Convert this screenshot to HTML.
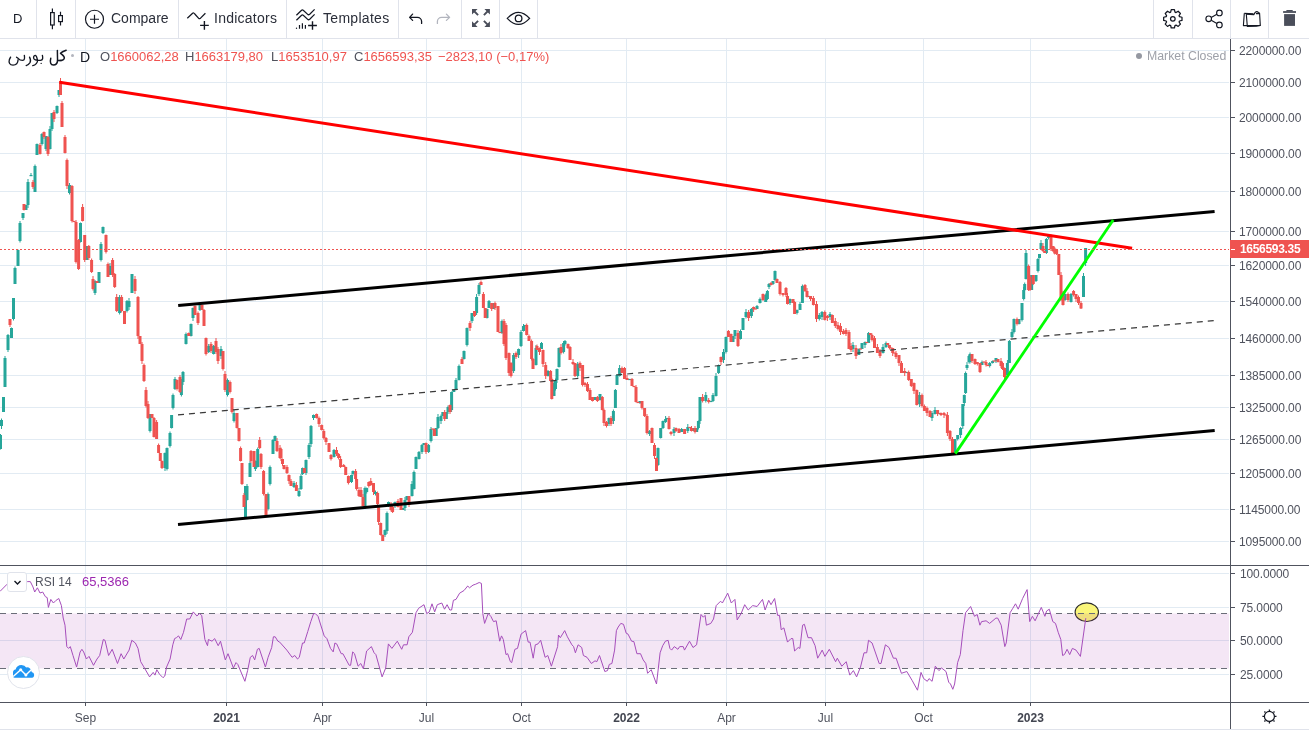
<!DOCTYPE html><html><head><meta charset="utf-8"><style>html,body{margin:0;padding:0;background:#fff;overflow:hidden}#r{position:relative;width:1309px;height:730px;overflow:hidden;font-family:"Liberation Sans", sans-serif;}.t{position:absolute;white-space:nowrap;line-height:1;will-change:transform;}</style></head><body><div id="r"><svg width="1309" height="730" viewBox="0 0 1309 730" style="position:absolute;left:0;top:0"><path d="M0 50.5H1229 M0 82.5H1229 M0 117.5H1229 M0 153.5H1229 M0 191.5H1229 M0 231.5H1229 M0 265.5H1229 M0 301.5H1229 M0 338.5H1229 M0 375.5H1229 M0 407.5H1229 M0 439.5H1229 M0 473.5H1229 M0 509.5H1229 M0 541.5H1229 M0 573.5H1229 M0 607.5H1229 M0 640.5H1229 M0 674.5H1229 M85.5 39V565 M85.5 566V702 M226.5 39V565 M226.5 566V702 M322.5 39V565 M322.5 566V702 M426.5 39V565 M426.5 566V702 M521.5 39V565 M521.5 566V702 M626.5 39V565 M626.5 566V702 M726.5 39V565 M726.5 566V702 M825.5 39V565 M825.5 566V702 M923.5 39V565 M923.5 566V702 M1030.5 39V565 M1030.5 566V702" stroke="#e2ebf3" stroke-width="1" fill="none"/><ellipse cx="1086.8" cy="612.2" rx="11.7" ry="9.3" fill="#faf67a" stroke="#2a2a2a" stroke-width="1.1"/><rect x="0" y="613.5" width="1229" height="55" fill="rgba(149,20,165,0.105)"/><path d="M0 613.5H1229M0 668.5H1229" stroke="#6a6d78" stroke-width="1.1" stroke-dasharray="6 5" fill="none"/><polyline points="0.0,591.4 7.1,584.2 27.6,581.6 30.3,581.6 33.0,587.0 34.7,592.0 37.4,587.8 40.0,593.0 42.7,592.0 45.4,596.7 47.2,597.6 48.4,607.4 50.8,599.4 53.4,603.0 56.1,600.3 58.8,598.5 61.4,605.6 63.2,618.0 65.0,625.2 66.8,646.6 68.6,648.4 70.3,646.6 73.0,655.5 76.6,667.0 80.1,652.0 81.9,649.3 83.7,652.0 86.4,659.0 89.0,656.4 93.5,665.3 97.0,659.0 99.7,655.5 103.3,639.5 105.0,640.3 108.6,655.5 112.2,649.3 117.5,663.5 121.1,653.7 123.8,659.0 129.1,650.1 131.8,640.3 135.4,643.0 138.0,648.4 140.7,661.7 143.4,666.2 149.6,676.9 153.2,672.4 155.0,675.1 156.8,669.7 159.5,674.2 163.0,677.7 164.8,676.0 166.6,667.0 170.1,659.0 172.8,644.8 174.6,638.6 176.4,637.7 178.5,635.9 180.8,639.5 183.5,632.3 186.7,619.0 189.7,619.0 193.3,611.9 196.9,616.0 199.5,613.6 201.7,615.4 204.9,639.5 207.5,645.7 208.4,639.5 212.0,641.2 214.7,638.6 218.2,645.7 220.5,641.2 225.3,659.9 228.0,653.7 233.4,668.0 236.0,662.6 237.8,664.4 244.9,681.3 247.6,670.6 250.3,657.3 252.6,655.5 254.7,659.9 257.4,649.3 259.2,648.4 265.4,667.0 268.1,657.3 271.7,647.5 273.4,636.8 275.2,636.8 277.9,641.2 279.7,642.1 286.8,650.1 292.1,657.3 294.8,655.5 297.5,659.0 299.3,657.3 302.5,643.0 304.2,643.0 307.8,631.4 310.8,621.6 313.6,613.6 315.3,613.6 318.0,616.3 324.2,635.9 326.9,638.6 330.5,648.4 333.2,651.9 334.9,643.0 336.7,643.9 341.2,653.7 342.9,653.7 349.2,665.3 350.6,665.3 352.7,651.9 354.5,653.7 358.1,666.2 360.8,663.5 363.4,668.8 366.6,651.0 371.4,646.6 374.1,652.8 375.9,654.6 382.1,676.9 385.7,668.0 388.4,643.9 391.9,648.4 397.3,641.2 401.7,649.3 403.5,644.8 407.1,644.8 408.8,636.8 412.4,632.3 416.0,612.7 418.6,608.3 424.0,604.7 426.7,613.6 429.3,611.9 432.0,603.8 434.7,611.9 437.3,604.7 441.8,603.0 444.5,609.2 447.1,604.7 449.8,610.0 451.6,610.0 453.4,600.3 456.0,599.4 459.6,593.2 464.0,590.5 467.7,586.0 469.5,587.8 473.0,585.1 475.7,584.2 479.2,582.5 481.4,583.4 482.8,613.6 484.6,623.4 488.2,613.6 490.8,616.3 493.5,621.6 496.2,620.8 499.7,641.2 501.5,635.9 503.3,639.5 506.0,654.6 507.7,653.7 510.4,661.7 511.7,662.6 514.9,649.3 517.5,648.4 521.1,634.1 525.6,630.6 528.2,642.1 530.0,642.1 533.2,658.2 535.3,644.8 538.0,643.9 540.7,640.3 545.1,657.3 547.8,655.5 551.4,666.2 557.6,646.6 558.5,635.0 560.3,637.7 564.7,630.6 567.4,636.8 571.9,644.8 573.6,646.6 575.4,652.8 578.1,644.8 581.7,647.5 583.4,655.5 587.0,657.3 591.4,663.5 595.0,660.8 596.8,661.7 599.5,655.5 604.8,671.5 607.5,670.6 609.3,664.4 611.9,663.5 614.6,650.1 616.4,630.6 618.2,627.0 620.8,623.4 623.5,624.3 626.2,633.2 628.0,634.1 631.6,641.2 633.9,641.6 636.9,653.7 640.5,653.7 643.2,659.9 645.8,663.5 647.6,673.3 651.2,669.7 656.5,684.0 660.1,652.8 662.7,645.7 665.4,641.2 668.1,640.3 669.9,648.4 671.6,650.1 674.3,646.6 677.9,649.3 679.7,646.6 683.2,646.6 684.5,650.1 689.5,641.2 693.0,647.5 696.6,644.8 701.0,614.5 703.3,617.2 705.1,615.4 706.4,625.2 710.8,623.4 713.5,619.0 716.2,605.6 720.6,601.2 722.4,603.0 727.7,593.2 731.3,603.0 734.9,599.4 737.2,619.9 741.1,613.6 744.7,604.7 748.2,610.0 752.7,605.6 757.1,606.5 762.5,599.4 765.1,610.0 768.7,600.3 771.0,604.7 774.6,598.5 777.6,615.4 779.5,615.4 781.2,629.7 783.9,627.9 787.5,642.1 791.0,638.6 792.8,638.6 794.6,651.0 798.2,647.5 799.9,648.4 802.6,625.2 804.4,624.3 808.0,637.7 811.5,637.7 815.1,645.7 817.7,658.2 822.2,650.1 824.9,656.4 829.3,649.3 835.6,661.7 837.3,658.2 841.8,666.2 846.2,661.7 849.8,675.1 853.4,670.6 856.6,676.9 860.5,667.0 864.0,652.8 866.7,652.8 868.5,640.3 872.1,643.0 879.2,663.5 881.0,663.5 885.4,644.8 889.0,647.5 893.4,658.2 896.1,658.2 901.4,673.3 906.8,671.5 912.1,680.4 917.5,690.2 921.0,672.4 923.7,678.6 927.3,681.3 929.0,678.6 932.1,681.3 935.3,666.2 938.9,670.6 941.6,668.0 946.0,671.5 948.7,682.2 950.5,684.0 952.8,689.3 954.6,684.0 957.6,662.6 960.3,654.6 963.0,630.6 965.6,612.7 970.6,606.5 974.5,616.3 977.2,614.5 979.9,625.2 981.6,621.6 986.1,620.8 989.6,623.4 995.9,618.1 997.7,618.1 1001.2,625.2 1004.8,646.6 1006.2,643.0 1010.1,612.7 1012.8,608.3 1015.5,603.8 1018.2,609.2 1022.6,598.5 1027.1,589.6 1029.7,621.6 1032.4,616.3 1035.1,620.8 1041.3,607.4 1044.9,616.3 1046.6,611.0 1049.3,609.2 1052.8,621.6 1055.5,623.4 1058.2,632.3 1060.8,639.5 1062.6,655.5 1064.4,654.6 1067.1,649.3 1069.7,654.6 1072.4,648.4 1076.0,650.1 1080.4,656.4 1085.8,618.1" fill="none" stroke="#a64ebb" stroke-width="1" stroke-linejoin="round"/><g fill="#26a69a"><rect x="0.00" y="434.00" width="1" height="15.50"/><rect x="1.00" y="418.50" width="1" height="10.50"/><rect x="3.00" y="397.00" width="1" height="15.00"/><rect x="4.50" y="356.00" width="1" height="31.00"/><rect x="7.50" y="334.00" width="1" height="18.00"/><rect x="11.00" y="327.50" width="1" height="10.50"/><rect x="13.00" y="298.00" width="1" height="22.50"/><rect x="14.50" y="266.50" width="1" height="17.50"/><rect x="17.50" y="249.50" width="1" height="16.50"/><rect x="19.50" y="221.00" width="1" height="21.50"/><rect x="22.50" y="213.00" width="1" height="7.00"/><rect x="27.50" y="179.00" width="1" height="29.00"/><rect x="30.50" y="173.00" width="1" height="3.00"/><rect x="34.50" y="164.50" width="1" height="27.50"/><rect x="36.50" y="143.50" width="1" height="11.50"/><rect x="41.50" y="133.00" width="1" height="12.50"/><rect x="45.50" y="136.00" width="1" height="15.00"/><rect x="49.50" y="126.00" width="1" height="23.50"/><rect x="51.50" y="113.00" width="1" height="18.00"/><rect x="56.50" y="105.50" width="1" height="8.50"/><rect x="58.50" y="90.00" width="1" height="7.00"/><rect x="69.00" y="183.00" width="1" height="11.50"/><rect x="80.00" y="222.50" width="1" height="20.00"/><rect x="94.50" y="280.00" width="1" height="15.00"/><rect x="98.50" y="272.00" width="1" height="11.00"/><rect x="100.50" y="242.00" width="1" height="19.50"/><rect x="102.50" y="226.50" width="1" height="7.50"/><rect x="109.50" y="263.00" width="1" height="12.00"/><rect x="119.10" y="295.00" width="1" height="19.50"/><rect x="126.50" y="300.00" width="1" height="12.50"/><rect x="128.50" y="298.00" width="1" height="12.00"/><rect x="131.50" y="274.00" width="1" height="19.00"/><rect x="149.50" y="414.00" width="1" height="18.50"/><rect x="164.50" y="452.50" width="1" height="18.50"/><rect x="166.50" y="447.50" width="1" height="23.00"/><rect x="169.50" y="431.50" width="1" height="16.00"/><rect x="171.10" y="415.00" width="1" height="13.50"/><rect x="172.50" y="393.50" width="1" height="16.00"/><rect x="174.50" y="377.00" width="1" height="13.00"/><rect x="180.90" y="379.00" width="1" height="17.50"/><rect x="182.50" y="371.00" width="1" height="14.00"/><rect x="185.50" y="332.50" width="1" height="12.00"/><rect x="190.50" y="323.50" width="1" height="13.00"/><rect x="192.50" y="307.50" width="1" height="13.50"/><rect x="199.50" y="304.50" width="1" height="6.50"/><rect x="208.20" y="344.00" width="1" height="9.00"/><rect x="213.10" y="345.00" width="1" height="9.50"/><rect x="220.50" y="346.00" width="1" height="13.00"/><rect x="227.00" y="378.50" width="1" height="18.00"/><rect x="233.50" y="410.00" width="1" height="12.50"/><rect x="245.00" y="486.00" width="1" height="31.00"/><rect x="246.50" y="484.00" width="1" height="16.50"/><rect x="249.50" y="461.00" width="1" height="16.00"/><rect x="254.90" y="460.50" width="1" height="10.50"/><rect x="257.20" y="447.50" width="1" height="20.00"/><rect x="267.50" y="492.50" width="1" height="18.00"/><rect x="269.50" y="465.50" width="1" height="20.00"/><rect x="272.50" y="439.00" width="1" height="15.00"/><rect x="274.50" y="435.50" width="1" height="5.50"/><rect x="293.50" y="481.00" width="1" height="7.00"/><rect x="298.50" y="488.00" width="1" height="9.00"/><rect x="300.50" y="474.00" width="1" height="16.00"/><rect x="302.10" y="467.50" width="1" height="7.50"/><rect x="305.50" y="459.50" width="1" height="15.50"/><rect x="308.50" y="443.00" width="1" height="16.00"/><rect x="310.50" y="425.00" width="1" height="22.00"/><rect x="313.00" y="414.50" width="1" height="5.50"/><rect x="333.50" y="449.00" width="1" height="8.50"/><rect x="351.00" y="474.50" width="1" height="8.50"/><rect x="352.50" y="470.50" width="1" height="5.00"/><rect x="364.50" y="486.50" width="1" height="22.50"/><rect x="366.20" y="487.50" width="1" height="6.00"/><rect x="375.00" y="490.50" width="1" height="5.00"/><rect x="384.50" y="529.50" width="1" height="7.50"/><rect x="386.50" y="511.50" width="1" height="22.50"/><rect x="388.00" y="501.50" width="1" height="5.50"/><rect x="394.50" y="501.50" width="1" height="6.50"/><rect x="404.50" y="497.00" width="1" height="14.00"/><rect x="411.50" y="481.00" width="1" height="15.50"/><rect x="413.50" y="470.50" width="1" height="19.00"/><rect x="415.50" y="456.50" width="1" height="12.50"/><rect x="418.50" y="451.00" width="1" height="8.50"/><rect x="421.50" y="444.00" width="1" height="10.00"/><rect x="428.10" y="444.00" width="1" height="9.00"/><rect x="430.50" y="427.00" width="1" height="15.50"/><rect x="437.50" y="414.00" width="1" height="15.00"/><rect x="440.50" y="414.50" width="1" height="9.50"/><rect x="447.50" y="405.50" width="1" height="8.50"/><rect x="451.10" y="391.50" width="1" height="20.50"/><rect x="455.50" y="378.00" width="1" height="12.00"/><rect x="458.50" y="364.50" width="1" height="16.00"/><rect x="463.50" y="350.50" width="1" height="9.00"/><rect x="466.50" y="327.50" width="1" height="19.00"/><rect x="471.50" y="313.00" width="1" height="10.00"/><rect x="476.10" y="294.00" width="1" height="21.00"/><rect x="478.50" y="283.00" width="1" height="13.00"/><rect x="486.50" y="308.50" width="1" height="10.00"/><rect x="488.50" y="300.00" width="1" height="8.00"/><rect x="501.50" y="319.50" width="1" height="14.50"/><rect x="513.10" y="353.00" width="1" height="20.00"/><rect x="518.10" y="348.50" width="1" height="9.50"/><rect x="520.50" y="330.00" width="1" height="17.00"/><rect x="523.00" y="324.00" width="1" height="7.50"/><rect x="535.50" y="345.00" width="1" height="20.50"/><rect x="541.00" y="342.00" width="1" height="7.00"/><rect x="547.50" y="370.00" width="1" height="6.50"/><rect x="553.50" y="380.00" width="1" height="16.00"/><rect x="555.00" y="378.50" width="1" height="12.00"/><rect x="556.50" y="368.50" width="1" height="14.50"/><rect x="558.50" y="347.50" width="1" height="20.00"/><rect x="563.10" y="341.00" width="1" height="12.50"/><rect x="564.50" y="340.00" width="1" height="5.50"/><rect x="577.20" y="362.00" width="1" height="15.50"/><rect x="594.50" y="397.00" width="1" height="3.00"/><rect x="599.50" y="394.00" width="1" height="6.50"/><rect x="608.50" y="417.50" width="1" height="8.50"/><rect x="612.90" y="409.50" width="1" height="14.50"/><rect x="614.90" y="389.00" width="1" height="19.00"/><rect x="616.50" y="374.00" width="1" height="11.00"/><rect x="619.10" y="365.00" width="1" height="11.50"/><rect x="639.50" y="401.00" width="1" height="3.00"/><rect x="649.10" y="430.00" width="1" height="6.00"/><rect x="657.50" y="447.50" width="1" height="18.50"/><rect x="660.20" y="428.00" width="1" height="10.50"/><rect x="662.50" y="420.50" width="1" height="8.50"/><rect x="665.10" y="416.00" width="1" height="7.00"/><rect x="673.50" y="427.00" width="1" height="9.00"/><rect x="681.10" y="428.00" width="1" height="4.00"/><rect x="687.30" y="424.00" width="1" height="9.00"/><rect x="697.90" y="420.50" width="1" height="9.00"/><rect x="699.50" y="397.00" width="1" height="27.00"/><rect x="705.30" y="392.00" width="1" height="10.50"/><rect x="712.50" y="393.00" width="1" height="9.00"/><rect x="715.50" y="373.00" width="1" height="23.50"/><rect x="718.10" y="364.50" width="1" height="9.50"/><rect x="723.00" y="349.00" width="1" height="14.00"/><rect x="725.50" y="336.50" width="1" height="17.00"/><rect x="734.50" y="330.00" width="1" height="9.00"/><rect x="740.00" y="329.50" width="1" height="10.00"/><rect x="742.50" y="318.00" width="1" height="12.00"/><rect x="745.50" y="309.00" width="1" height="9.50"/><rect x="750.90" y="308.00" width="1" height="10.00"/><rect x="756.50" y="305.00" width="1" height="4.00"/><rect x="759.50" y="297.50" width="1" height="6.00"/><rect x="765.20" y="293.50" width="1" height="8.50"/><rect x="766.90" y="290.00" width="1" height="10.00"/><rect x="768.50" y="283.00" width="1" height="6.00"/><rect x="772.50" y="281.00" width="1" height="4.00"/><rect x="774.50" y="270.50" width="1" height="10.50"/><rect x="789.50" y="298.50" width="1" height="6.50"/><rect x="796.50" y="309.50" width="1" height="5.00"/><rect x="799.50" y="302.00" width="1" height="8.00"/><rect x="801.90" y="284.50" width="1" height="18.50"/><rect x="818.80" y="313.00" width="1" height="7.50"/><rect x="821.50" y="311.00" width="1" height="9.00"/><rect x="829.50" y="312.00" width="1" height="8.00"/><rect x="852.50" y="342.00" width="1" height="10.00"/><rect x="858.30" y="348.50" width="1" height="6.50"/><rect x="861.50" y="343.00" width="1" height="6.00"/><rect x="864.50" y="341.50" width="1" height="6.50"/><rect x="868.10" y="332.00" width="1" height="11.00"/><rect x="882.50" y="344.00" width="1" height="9.50"/><rect x="885.50" y="341.50" width="1" height="6.50"/><rect x="919.10" y="392.00" width="1" height="15.00"/><rect x="931.50" y="411.00" width="1" height="10.00"/><rect x="934.50" y="407.00" width="1" height="7.50"/><rect x="954.50" y="439.00" width="1" height="14.50"/><rect x="957.20" y="435.00" width="1" height="5.50"/><rect x="960.10" y="427.00" width="1" height="11.00"/><rect x="962.30" y="404.00" width="1" height="25.00"/><rect x="963.80" y="394.50" width="1" height="11.50"/><rect x="965.10" y="371.50" width="1" height="22.50"/><rect x="966.50" y="362.00" width="1" height="8.00"/><rect x="968.50" y="355.00" width="1" height="8.50"/><rect x="969.50" y="352.50" width="1" height="11.00"/><rect x="981.50" y="360.50" width="1" height="4.50"/><rect x="989.20" y="362.00" width="1" height="5.50"/><rect x="992.10" y="360.50" width="1" height="3.00"/><rect x="995.50" y="358.00" width="1" height="5.00"/><rect x="1006.90" y="360.00" width="1" height="17.00"/><rect x="1008.90" y="340.00" width="1" height="23.00"/><rect x="1011.50" y="329.00" width="1" height="9.00"/><rect x="1013.50" y="318.50" width="1" height="15.00"/><rect x="1018.50" y="319.00" width="1" height="5.50"/><rect x="1021.50" y="303.00" width="1" height="18.50"/><rect x="1023.20" y="287.00" width="1" height="13.50"/><rect x="1024.20" y="282.50" width="1" height="8.50"/><rect x="1025.50" y="250.00" width="1" height="29.50"/><rect x="1035.50" y="275.00" width="1" height="7.00"/><rect x="1037.50" y="258.00" width="1" height="14.50"/><rect x="1039.00" y="254.00" width="1" height="4.50"/><rect x="1040.50" y="240.00" width="1" height="9.00"/><rect x="1045.90" y="238.00" width="1" height="16.00"/><rect x="1048.10" y="234.50" width="1" height="5.00"/><rect x="1064.50" y="293.50" width="1" height="7.50"/><rect x="1070.50" y="293.00" width="1" height="9.50"/><rect x="1083.00" y="273.00" width="1" height="24.00"/><rect x="1085.10" y="248.00" width="1" height="18.00"/><rect x="-1.00" y="435.00" width="3.0" height="14.00"/><rect x="0.00" y="420.00" width="3.0" height="6.00"/><rect x="2.00" y="397.00" width="3.0" height="15.00"/><rect x="3.50" y="358.00" width="3.0" height="29.00"/><rect x="6.50" y="335.00" width="3.0" height="15.00"/><rect x="10.00" y="328.00" width="3.0" height="10.00"/><rect x="12.00" y="298.00" width="3.0" height="21.00"/><rect x="13.50" y="268.00" width="3.0" height="16.00"/><rect x="16.50" y="250.00" width="3.0" height="16.00"/><rect x="18.50" y="223.00" width="3.0" height="18.00"/><rect x="21.50" y="213.00" width="3.0" height="5.00"/><rect x="26.50" y="182.00" width="3.0" height="23.00"/><rect x="29.50" y="175.00" width="3.0" height="1.20"/><rect x="33.50" y="166.00" width="3.0" height="26.00"/><rect x="35.50" y="144.00" width="3.0" height="11.00"/><rect x="40.50" y="134.00" width="3.0" height="10.00"/><rect x="44.50" y="136.00" width="3.0" height="13.00"/><rect x="48.50" y="129.00" width="3.0" height="20.00"/><rect x="50.50" y="113.00" width="3.0" height="16.00"/><rect x="55.50" y="106.00" width="3.0" height="7.00"/><rect x="57.50" y="90.00" width="3.0" height="5.00"/><rect x="68.00" y="185.00" width="3.0" height="8.00"/><rect x="79.00" y="223.00" width="3.0" height="19.00"/><rect x="93.50" y="281.00" width="3.0" height="12.00"/><rect x="97.50" y="272.00" width="3.0" height="11.00"/><rect x="99.50" y="244.00" width="3.0" height="16.00"/><rect x="101.50" y="227.00" width="3.0" height="6.00"/><rect x="108.50" y="266.00" width="3.0" height="9.00"/><rect x="118.10" y="297.00" width="3.0" height="16.00"/><rect x="125.50" y="301.00" width="3.0" height="10.00"/><rect x="127.50" y="301.00" width="3.0" height="6.00"/><rect x="130.50" y="274.00" width="3.0" height="19.00"/><rect x="148.50" y="414.00" width="3.0" height="17.00"/><rect x="163.50" y="453.00" width="3.0" height="15.00"/><rect x="165.50" y="448.00" width="3.0" height="21.00"/><rect x="168.50" y="433.00" width="3.0" height="13.00"/><rect x="170.10" y="415.00" width="3.0" height="13.00"/><rect x="171.50" y="395.00" width="3.0" height="13.00"/><rect x="173.50" y="379.00" width="3.0" height="10.00"/><rect x="179.90" y="382.00" width="3.0" height="13.00"/><rect x="181.50" y="372.00" width="3.0" height="10.00"/><rect x="184.50" y="334.00" width="3.0" height="10.00"/><rect x="189.50" y="324.00" width="3.0" height="12.00"/><rect x="191.50" y="308.00" width="3.0" height="10.00"/><rect x="198.50" y="305.00" width="3.0" height="5.00"/><rect x="207.20" y="346.00" width="3.0" height="6.00"/><rect x="212.10" y="346.00" width="3.0" height="8.00"/><rect x="219.50" y="349.00" width="3.0" height="7.00"/><rect x="226.00" y="380.00" width="3.0" height="15.00"/><rect x="232.50" y="413.00" width="3.0" height="8.00"/><rect x="244.00" y="486.00" width="3.0" height="31.00"/><rect x="245.50" y="486.00" width="3.0" height="14.00"/><rect x="248.50" y="463.00" width="3.0" height="14.00"/><rect x="253.90" y="461.00" width="3.0" height="8.00"/><rect x="256.20" y="449.00" width="3.0" height="18.00"/><rect x="266.50" y="494.00" width="3.0" height="15.00"/><rect x="268.50" y="467.00" width="3.0" height="17.00"/><rect x="271.50" y="440.00" width="3.0" height="14.00"/><rect x="273.50" y="436.00" width="3.0" height="5.00"/><rect x="292.50" y="483.00" width="3.0" height="4.00"/><rect x="297.50" y="491.00" width="3.0" height="5.00"/><rect x="299.50" y="476.00" width="3.0" height="13.00"/><rect x="301.10" y="468.00" width="3.0" height="6.00"/><rect x="304.50" y="460.00" width="3.0" height="13.00"/><rect x="307.50" y="445.00" width="3.0" height="12.00"/><rect x="309.50" y="426.00" width="3.0" height="18.00"/><rect x="312.00" y="415.00" width="3.0" height="3.00"/><rect x="332.50" y="450.00" width="3.0" height="7.00"/><rect x="350.00" y="475.00" width="3.0" height="7.00"/><rect x="351.50" y="471.00" width="3.0" height="3.00"/><rect x="363.50" y="488.00" width="3.0" height="18.00"/><rect x="365.20" y="488.00" width="3.0" height="4.00"/><rect x="374.00" y="492.00" width="3.0" height="2.00"/><rect x="383.50" y="530.00" width="3.0" height="5.00"/><rect x="385.50" y="513.00" width="3.0" height="18.00"/><rect x="387.00" y="502.00" width="3.0" height="3.00"/><rect x="393.50" y="502.00" width="3.0" height="4.00"/><rect x="403.50" y="500.00" width="3.0" height="8.00"/><rect x="410.50" y="484.00" width="3.0" height="12.00"/><rect x="412.50" y="472.00" width="3.0" height="17.00"/><rect x="414.50" y="457.00" width="3.0" height="12.00"/><rect x="417.50" y="452.00" width="3.0" height="7.00"/><rect x="420.50" y="445.00" width="3.0" height="7.00"/><rect x="427.10" y="445.00" width="3.0" height="7.00"/><rect x="429.50" y="429.00" width="3.0" height="12.00"/><rect x="436.50" y="417.00" width="3.0" height="11.00"/><rect x="439.50" y="416.00" width="3.0" height="5.00"/><rect x="446.50" y="407.00" width="3.0" height="5.00"/><rect x="450.10" y="392.00" width="3.0" height="18.00"/><rect x="454.50" y="380.00" width="3.0" height="10.00"/><rect x="457.50" y="366.00" width="3.0" height="14.00"/><rect x="462.50" y="351.00" width="3.0" height="8.00"/><rect x="465.50" y="328.00" width="3.0" height="17.00"/><rect x="470.50" y="313.00" width="3.0" height="8.00"/><rect x="475.10" y="297.00" width="3.0" height="16.00"/><rect x="477.50" y="285.00" width="3.0" height="9.00"/><rect x="485.50" y="309.00" width="3.0" height="9.00"/><rect x="487.50" y="301.00" width="3.0" height="7.00"/><rect x="500.50" y="321.00" width="3.0" height="12.00"/><rect x="512.10" y="355.00" width="3.0" height="16.00"/><rect x="517.10" y="349.00" width="3.0" height="6.00"/><rect x="519.50" y="332.00" width="3.0" height="14.00"/><rect x="522.00" y="326.00" width="3.0" height="5.00"/><rect x="534.50" y="348.00" width="3.0" height="17.00"/><rect x="540.00" y="343.00" width="3.0" height="6.00"/><rect x="546.50" y="371.00" width="3.0" height="5.00"/><rect x="552.50" y="383.00" width="3.0" height="13.00"/><rect x="554.00" y="380.00" width="3.0" height="9.00"/><rect x="555.50" y="369.00" width="3.0" height="11.00"/><rect x="557.50" y="348.00" width="3.0" height="19.00"/><rect x="562.10" y="343.00" width="3.0" height="9.00"/><rect x="563.50" y="341.00" width="3.0" height="3.00"/><rect x="576.20" y="364.00" width="3.0" height="12.00"/><rect x="593.50" y="397.00" width="3.0" height="3.00"/><rect x="598.50" y="394.00" width="3.0" height="6.00"/><rect x="607.50" y="418.00" width="3.0" height="6.00"/><rect x="611.90" y="411.00" width="3.0" height="10.00"/><rect x="613.90" y="390.00" width="3.0" height="18.00"/><rect x="615.50" y="375.00" width="3.0" height="10.00"/><rect x="618.10" y="368.00" width="3.0" height="8.00"/><rect x="638.50" y="401.00" width="3.0" height="2.00"/><rect x="648.10" y="431.00" width="3.0" height="3.00"/><rect x="656.50" y="448.00" width="3.0" height="17.00"/><rect x="659.20" y="428.00" width="3.0" height="10.00"/><rect x="661.50" y="421.00" width="3.0" height="7.00"/><rect x="664.10" y="419.00" width="3.0" height="3.00"/><rect x="672.50" y="429.00" width="3.0" height="4.00"/><rect x="680.10" y="429.00" width="3.0" height="3.00"/><rect x="686.30" y="427.00" width="3.0" height="4.00"/><rect x="696.90" y="421.00" width="3.0" height="7.00"/><rect x="698.50" y="397.00" width="3.0" height="24.00"/><rect x="704.30" y="395.00" width="3.0" height="6.00"/><rect x="711.50" y="395.00" width="3.0" height="6.00"/><rect x="714.50" y="376.00" width="3.0" height="20.00"/><rect x="717.10" y="365.00" width="3.0" height="8.00"/><rect x="722.00" y="352.00" width="3.0" height="8.00"/><rect x="724.50" y="337.00" width="3.0" height="15.00"/><rect x="733.50" y="330.00" width="3.0" height="6.00"/><rect x="739.00" y="331.00" width="3.0" height="8.00"/><rect x="741.50" y="318.00" width="3.0" height="12.00"/><rect x="744.50" y="312.00" width="3.0" height="5.00"/><rect x="749.90" y="309.00" width="3.0" height="7.00"/><rect x="755.50" y="306.00" width="3.0" height="3.00"/><rect x="758.50" y="299.00" width="3.0" height="4.00"/><rect x="764.20" y="295.00" width="3.0" height="7.00"/><rect x="765.90" y="291.00" width="3.0" height="8.00"/><rect x="767.50" y="284.00" width="3.0" height="3.00"/><rect x="771.50" y="281.00" width="3.0" height="3.00"/><rect x="773.50" y="271.00" width="3.0" height="9.00"/><rect x="788.50" y="299.00" width="3.0" height="4.00"/><rect x="795.50" y="310.00" width="3.0" height="3.00"/><rect x="798.50" y="304.00" width="3.0" height="6.00"/><rect x="800.90" y="286.00" width="3.0" height="17.00"/><rect x="817.80" y="315.00" width="3.0" height="4.00"/><rect x="820.50" y="312.00" width="3.0" height="5.00"/><rect x="828.50" y="314.00" width="3.0" height="3.00"/><rect x="851.50" y="345.00" width="3.0" height="4.00"/><rect x="857.30" y="349.00" width="3.0" height="6.00"/><rect x="860.50" y="343.00" width="3.0" height="6.00"/><rect x="863.50" y="342.00" width="3.0" height="3.00"/><rect x="867.10" y="333.00" width="3.0" height="10.00"/><rect x="881.50" y="347.00" width="3.0" height="6.00"/><rect x="884.50" y="343.00" width="3.0" height="4.00"/><rect x="918.10" y="395.00" width="3.0" height="9.00"/><rect x="930.50" y="413.00" width="3.0" height="5.00"/><rect x="933.50" y="410.00" width="3.0" height="4.00"/><rect x="953.50" y="439.00" width="3.0" height="13.00"/><rect x="956.20" y="435.00" width="3.0" height="4.00"/><rect x="959.10" y="428.00" width="3.0" height="7.00"/><rect x="961.30" y="404.00" width="3.0" height="22.00"/><rect x="962.80" y="395.00" width="3.0" height="8.00"/><rect x="964.10" y="373.00" width="3.0" height="20.00"/><rect x="965.50" y="365.00" width="3.0" height="3.00"/><rect x="967.50" y="356.00" width="3.0" height="6.00"/><rect x="968.50" y="354.00" width="3.0" height="8.00"/><rect x="980.50" y="362.00" width="3.0" height="3.00"/><rect x="988.20" y="363.00" width="3.0" height="3.00"/><rect x="991.10" y="361.00" width="3.0" height="2.00"/><rect x="994.50" y="358.00" width="3.0" height="3.00"/><rect x="1005.90" y="363.00" width="3.0" height="12.00"/><rect x="1007.90" y="341.00" width="3.0" height="22.00"/><rect x="1010.50" y="332.00" width="3.0" height="5.00"/><rect x="1012.50" y="319.00" width="3.0" height="13.00"/><rect x="1017.50" y="319.00" width="3.0" height="5.00"/><rect x="1020.50" y="303.00" width="3.0" height="17.00"/><rect x="1022.20" y="290.00" width="3.0" height="9.00"/><rect x="1023.20" y="284.00" width="3.0" height="6.00"/><rect x="1024.50" y="253.00" width="3.0" height="26.00"/><rect x="1034.50" y="275.00" width="3.0" height="6.00"/><rect x="1036.50" y="259.00" width="3.0" height="12.00"/><rect x="1038.00" y="254.00" width="3.0" height="4.00"/><rect x="1039.50" y="243.00" width="3.0" height="6.00"/><rect x="1044.90" y="239.00" width="3.0" height="14.00"/><rect x="1047.10" y="234.50" width="3.0" height="3.50"/><rect x="1063.50" y="294.00" width="3.0" height="6.00"/><rect x="1069.50" y="294.00" width="3.0" height="8.00"/><rect x="1082.00" y="276.00" width="3.0" height="21.00"/><rect x="1084.10" y="248.00" width="3.0" height="15.00"/><rect x="24.50" y="205.00" width="3.0" height="5.00"/><rect x="85.25" y="246.00" width="3.0" height="14.00"/><rect x="401.50" y="508.00" width="3.0" height="2.00"/><rect x="405.50" y="496.00" width="3.0" height="4.00"/><rect x="422.50" y="443.00" width="3.0" height="2.00"/><rect x="434.70" y="428.00" width="3.0" height="8.00"/><rect x="441.35" y="412.00" width="3.0" height="4.00"/><rect x="444.85" y="412.00" width="3.0" height="7.00"/><rect x="452.30" y="390.00" width="3.0" height="2.00"/><rect x="491.85" y="303.00" width="3.0" height="6.00"/><rect x="523.60" y="324.90" width="3.0" height="1.20"/><rect x="628.00" y="378.90" width="3.0" height="1.20"/><rect x="665.80" y="417.90" width="3.0" height="1.20"/><rect x="691.75" y="428.00" width="3.0" height="3.00"/><rect x="695.20" y="428.00" width="3.0" height="4.00"/><rect x="709.35" y="400.90" width="3.0" height="1.20"/><rect x="731.50" y="336.00" width="3.0" height="6.00"/><rect x="807.25" y="295.90" width="3.0" height="1.20"/><rect x="901.60" y="371.00" width="3.0" height="2.00"/><rect x="905.20" y="371.90" width="3.0" height="1.20"/><rect x="937.80" y="412.90" width="3.0" height="1.20"/><rect x="1030.15" y="275.00" width="3.0" height="15.00"/></g><g fill="#ef5350"><rect x="9.50" y="319.00" width="1" height="8.00"/><rect x="23.50" y="204.00" width="1" height="6.50"/><rect x="32.50" y="180.00" width="1" height="9.00"/><rect x="39.50" y="143.00" width="1" height="11.50"/><rect x="43.50" y="131.50" width="1" height="7.50"/><rect x="47.50" y="136.00" width="1" height="20.00"/><rect x="53.50" y="110.00" width="1" height="12.00"/><rect x="60.00" y="78.00" width="1" height="17.00"/><rect x="61.50" y="101.00" width="1" height="26.00"/><rect x="64.50" y="135.00" width="1" height="18.50"/><rect x="66.50" y="158.50" width="1" height="30.50"/><rect x="71.50" y="185.00" width="1" height="37.50"/><rect x="75.50" y="220.00" width="1" height="43.50"/><rect x="78.10" y="239.00" width="1" height="31.00"/><rect x="82.10" y="204.00" width="1" height="17.50"/><rect x="84.20" y="235.00" width="1" height="27.00"/><rect x="88.30" y="245.00" width="1" height="15.00"/><rect x="91.10" y="258.50" width="1" height="14.50"/><rect x="92.50" y="276.00" width="1" height="14.50"/><rect x="105.50" y="234.50" width="1" height="19.00"/><rect x="107.50" y="262.50" width="1" height="14.50"/><rect x="112.10" y="258.00" width="1" height="19.00"/><rect x="114.20" y="273.00" width="1" height="15.00"/><rect x="116.20" y="294.00" width="1" height="18.00"/><rect x="121.10" y="295.00" width="1" height="17.50"/><rect x="124.00" y="311.00" width="1" height="13.00"/><rect x="134.50" y="276.00" width="1" height="18.00"/><rect x="137.50" y="296.00" width="1" height="43.00"/><rect x="141.50" y="342.00" width="1" height="22.00"/><rect x="143.50" y="363.50" width="1" height="18.50"/><rect x="145.50" y="387.00" width="1" height="20.50"/><rect x="147.50" y="401.00" width="1" height="18.00"/><rect x="153.50" y="417.00" width="1" height="20.50"/><rect x="156.10" y="420.00" width="1" height="19.00"/><rect x="158.10" y="443.50" width="1" height="9.50"/><rect x="161.50" y="460.50" width="1" height="8.50"/><rect x="176.50" y="379.50" width="1" height="11.00"/><rect x="179.50" y="375.00" width="1" height="18.00"/><rect x="188.20" y="332.50" width="1" height="3.50"/><rect x="194.50" y="305.50" width="1" height="9.50"/><rect x="197.50" y="311.50" width="1" height="13.50"/><rect x="203.50" y="309.00" width="1" height="17.00"/><rect x="205.50" y="337.50" width="1" height="18.00"/><rect x="210.50" y="342.00" width="1" height="11.00"/><rect x="215.50" y="338.00" width="1" height="16.00"/><rect x="217.50" y="347.00" width="1" height="17.00"/><rect x="222.50" y="351.00" width="1" height="19.50"/><rect x="224.50" y="371.00" width="1" height="21.00"/><rect x="229.50" y="380.50" width="1" height="13.00"/><rect x="231.50" y="398.00" width="1" height="15.50"/><rect x="236.50" y="413.00" width="1" height="15.50"/><rect x="238.50" y="428.00" width="1" height="13.50"/><rect x="240.10" y="446.50" width="1" height="15.00"/><rect x="241.50" y="463.00" width="1" height="22.00"/><rect x="243.50" y="493.00" width="1" height="14.00"/><rect x="250.50" y="450.00" width="1" height="13.00"/><rect x="253.50" y="451.00" width="1" height="16.00"/><rect x="259.20" y="437.00" width="1" height="12.00"/><rect x="260.50" y="453.00" width="1" height="16.00"/><rect x="263.10" y="470.00" width="1" height="25.50"/><rect x="265.50" y="494.00" width="1" height="23.00"/><rect x="276.50" y="438.00" width="1" height="14.00"/><rect x="279.50" y="445.00" width="1" height="14.00"/><rect x="280.50" y="447.50" width="1" height="13.50"/><rect x="282.00" y="458.50" width="1" height="7.50"/><rect x="283.50" y="465.00" width="1" height="4.50"/><rect x="286.50" y="465.00" width="1" height="9.00"/><rect x="288.50" y="474.50" width="1" height="9.50"/><rect x="290.50" y="479.00" width="1" height="7.00"/><rect x="295.90" y="482.00" width="1" height="9.00"/><rect x="316.10" y="413.50" width="1" height="5.00"/><rect x="318.50" y="416.50" width="1" height="10.50"/><rect x="321.20" y="424.50" width="1" height="6.00"/><rect x="323.30" y="429.00" width="1" height="10.50"/><rect x="325.50" y="437.00" width="1" height="8.00"/><rect x="328.50" y="443.00" width="1" height="9.00"/><rect x="330.50" y="454.00" width="1" height="6.50"/><rect x="336.00" y="447.00" width="1" height="9.00"/><rect x="338.10" y="453.00" width="1" height="6.50"/><rect x="340.10" y="456.00" width="1" height="12.00"/><rect x="343.20" y="464.00" width="1" height="3.00"/><rect x="345.20" y="466.50" width="1" height="8.50"/><rect x="347.90" y="475.50" width="1" height="9.00"/><rect x="355.10" y="469.00" width="1" height="12.00"/><rect x="356.10" y="479.00" width="1" height="11.50"/><rect x="358.50" y="487.00" width="1" height="10.00"/><rect x="360.50" y="487.00" width="1" height="10.00"/><rect x="362.50" y="494.00" width="1" height="12.00"/><rect x="368.30" y="481.50" width="1" height="6.00"/><rect x="370.30" y="478.00" width="1" height="8.00"/><rect x="373.00" y="483.00" width="1" height="12.00"/><rect x="377.10" y="491.50" width="1" height="15.50"/><rect x="378.10" y="507.00" width="1" height="18.00"/><rect x="380.20" y="522.50" width="1" height="13.00"/><rect x="382.20" y="534.50" width="1" height="6.50"/><rect x="390.50" y="502.00" width="1" height="9.50"/><rect x="392.10" y="504.00" width="1" height="9.00"/><rect x="397.50" y="499.00" width="1" height="8.50"/><rect x="400.50" y="498.00" width="1" height="12.00"/><rect x="408.50" y="496.00" width="1" height="11.00"/><rect x="425.50" y="442.50" width="1" height="11.50"/><rect x="433.90" y="428.50" width="1" height="7.50"/><rect x="444.20" y="410.00" width="1" height="11.00"/><rect x="449.50" y="404.50" width="1" height="9.50"/><rect x="461.50" y="357.00" width="1" height="7.00"/><rect x="469.50" y="321.00" width="1" height="10.00"/><rect x="474.00" y="311.00" width="1" height="6.00"/><rect x="480.50" y="280.50" width="1" height="4.50"/><rect x="482.90" y="292.00" width="1" height="16.00"/><rect x="491.20" y="303.00" width="1" height="8.00"/><rect x="494.50" y="301.50" width="1" height="8.50"/><rect x="497.50" y="306.00" width="1" height="26.00"/><rect x="503.50" y="319.00" width="1" height="27.00"/><rect x="505.50" y="323.00" width="1" height="37.00"/><rect x="508.50" y="352.50" width="1" height="23.50"/><rect x="510.50" y="362.00" width="1" height="15.50"/><rect x="515.50" y="351.50" width="1" height="7.50"/><rect x="526.20" y="323.50" width="1" height="12.00"/><rect x="528.50" y="334.50" width="1" height="6.50"/><rect x="531.10" y="339.50" width="1" height="21.00"/><rect x="532.50" y="358.00" width="1" height="11.00"/><rect x="536.50" y="344.50" width="1" height="5.50"/><rect x="539.00" y="347.50" width="1" height="7.50"/><rect x="542.50" y="349.50" width="1" height="17.50"/><rect x="545.20" y="362.00" width="1" height="17.00"/><rect x="550.10" y="370.00" width="1" height="11.50"/><rect x="551.30" y="377.50" width="1" height="22.00"/><rect x="560.50" y="344.00" width="1" height="10.50"/><rect x="567.50" y="343.50" width="1" height="5.50"/><rect x="569.50" y="346.00" width="1" height="14.00"/><rect x="572.50" y="359.00" width="1" height="6.00"/><rect x="574.50" y="363.00" width="1" height="14.00"/><rect x="579.50" y="361.50" width="1" height="9.50"/><rect x="582.10" y="365.00" width="1" height="21.50"/><rect x="584.50" y="382.00" width="1" height="5.00"/><rect x="587.00" y="382.00" width="1" height="10.00"/><rect x="589.50" y="388.00" width="1" height="12.00"/><rect x="592.00" y="397.00" width="1" height="4.50"/><rect x="596.90" y="396.00" width="1" height="6.00"/><rect x="601.80" y="396.00" width="1" height="14.50"/><rect x="603.50" y="408.50" width="1" height="17.50"/><rect x="606.00" y="421.00" width="1" height="6.50"/><rect x="610.50" y="416.00" width="1" height="10.00"/><rect x="621.50" y="366.50" width="1" height="6.50"/><rect x="624.00" y="367.00" width="1" height="12.00"/><rect x="626.50" y="375.00" width="1" height="5.00"/><rect x="631.50" y="378.00" width="1" height="8.00"/><rect x="635.50" y="385.00" width="1" height="17.50"/><rect x="641.50" y="401.00" width="1" height="8.50"/><rect x="644.10" y="408.00" width="1" height="9.00"/><rect x="646.50" y="414.00" width="1" height="20.50"/><rect x="651.50" y="427.50" width="1" height="15.50"/><rect x="654.00" y="443.00" width="1" height="16.00"/><rect x="656.00" y="457.50" width="1" height="13.50"/><rect x="668.50" y="416.00" width="1" height="13.50"/><rect x="670.50" y="431.00" width="1" height="4.50"/><rect x="675.50" y="427.50" width="1" height="4.50"/><rect x="678.50" y="428.00" width="1" height="5.00"/><rect x="684.10" y="429.00" width="1" height="5.00"/><rect x="691.00" y="426.00" width="1" height="5.50"/><rect x="694.50" y="426.00" width="1" height="7.50"/><rect x="702.10" y="394.00" width="1" height="8.50"/><rect x="708.20" y="398.00" width="1" height="5.50"/><rect x="720.50" y="356.50" width="1" height="8.50"/><rect x="727.90" y="330.00" width="1" height="7.00"/><rect x="730.50" y="333.50" width="1" height="8.50"/><rect x="737.50" y="330.00" width="1" height="17.00"/><rect x="748.10" y="310.00" width="1" height="11.00"/><rect x="753.10" y="306.50" width="1" height="5.50"/><rect x="762.50" y="293.50" width="1" height="7.50"/><rect x="770.50" y="282.00" width="1" height="3.50"/><rect x="776.50" y="278.50" width="1" height="4.50"/><rect x="779.50" y="281.00" width="1" height="14.50"/><rect x="782.50" y="293.00" width="1" height="3.50"/><rect x="785.50" y="287.00" width="1" height="10.00"/><rect x="787.00" y="293.00" width="1" height="11.50"/><rect x="792.50" y="299.00" width="1" height="4.00"/><rect x="794.10" y="301.00" width="1" height="13.00"/><rect x="804.50" y="284.00" width="1" height="8.00"/><rect x="806.50" y="288.00" width="1" height="9.50"/><rect x="810.00" y="296.00" width="1" height="5.00"/><rect x="812.90" y="296.00" width="1" height="9.50"/><rect x="816.00" y="301.00" width="1" height="21.00"/><rect x="824.30" y="310.50" width="1" height="10.00"/><rect x="826.90" y="315.00" width="1" height="6.00"/><rect x="831.90" y="314.50" width="1" height="8.50"/><rect x="834.80" y="318.00" width="1" height="10.00"/><rect x="837.50" y="322.00" width="1" height="8.50"/><rect x="840.00" y="323.00" width="1" height="12.00"/><rect x="842.90" y="329.00" width="1" height="5.50"/><rect x="845.50" y="328.00" width="1" height="8.00"/><rect x="848.50" y="330.00" width="1" height="19.00"/><rect x="850.50" y="343.00" width="1" height="9.00"/><rect x="855.50" y="345.00" width="1" height="14.00"/><rect x="871.50" y="333.50" width="1" height="8.00"/><rect x="874.00" y="336.00" width="1" height="12.00"/><rect x="876.90" y="344.00" width="1" height="9.00"/><rect x="879.50" y="349.00" width="1" height="9.00"/><rect x="888.90" y="345.00" width="1" height="4.50"/><rect x="892.20" y="348.00" width="1" height="8.00"/><rect x="895.50" y="351.00" width="1" height="8.00"/><rect x="898.50" y="355.00" width="1" height="11.00"/><rect x="901.00" y="361.00" width="1" height="12.00"/><rect x="904.20" y="368.00" width="1" height="8.00"/><rect x="908.20" y="370.50" width="1" height="10.50"/><rect x="910.80" y="379.00" width="1" height="8.00"/><rect x="913.50" y="382.50" width="1" height="11.50"/><rect x="916.30" y="389.50" width="1" height="16.00"/><rect x="921.50" y="393.50" width="1" height="14.00"/><rect x="923.90" y="404.50" width="1" height="6.50"/><rect x="926.50" y="406.50" width="1" height="9.50"/><rect x="929.50" y="410.00" width="1" height="7.00"/><rect x="937.10" y="410.00" width="1" height="6.00"/><rect x="940.50" y="412.50" width="1" height="3.50"/><rect x="943.50" y="412.00" width="1" height="6.00"/><rect x="946.90" y="412.00" width="1" height="24.00"/><rect x="949.50" y="430.00" width="1" height="11.00"/><rect x="952.00" y="437.00" width="1" height="16.50"/><rect x="971.50" y="354.00" width="1" height="9.00"/><rect x="974.50" y="358.50" width="1" height="6.50"/><rect x="976.80" y="362.00" width="1" height="3.50"/><rect x="979.50" y="363.00" width="1" height="10.00"/><rect x="985.50" y="360.00" width="1" height="6.50"/><rect x="997.50" y="359.00" width="1" height="3.50"/><rect x="1000.50" y="358.00" width="1" height="10.00"/><rect x="1002.00" y="362.00" width="1" height="8.00"/><rect x="1004.00" y="367.50" width="1" height="11.50"/><rect x="1016.50" y="317.50" width="1" height="8.00"/><rect x="1028.10" y="264.50" width="1" height="26.50"/><rect x="1029.50" y="275.50" width="1" height="15.50"/><rect x="1032.80" y="275.00" width="1" height="10.00"/><rect x="1042.50" y="243.00" width="1" height="9.00"/><rect x="1050.50" y="234.50" width="1" height="16.50"/><rect x="1052.50" y="246.00" width="1" height="6.00"/><rect x="1054.20" y="247.00" width="1" height="7.50"/><rect x="1056.10" y="250.00" width="1" height="5.00"/><rect x="1058.30" y="254.00" width="1" height="21.00"/><rect x="1060.50" y="272.00" width="1" height="29.00"/><rect x="1062.50" y="291.00" width="1" height="14.50"/><rect x="1067.50" y="292.50" width="1" height="9.50"/><rect x="1073.10" y="290.00" width="1" height="6.50"/><rect x="1075.50" y="294.00" width="1" height="8.00"/><rect x="1078.00" y="295.50" width="1" height="9.50"/><rect x="1080.50" y="301.00" width="1" height="8.00"/><rect x="8.50" y="319.00" width="3.0" height="6.00"/><rect x="22.50" y="204.00" width="3.0" height="6.00"/><rect x="31.50" y="182.00" width="3.0" height="5.00"/><rect x="38.50" y="145.00" width="3.0" height="9.00"/><rect x="42.50" y="132.00" width="3.0" height="5.00"/><rect x="46.50" y="137.00" width="3.0" height="17.00"/><rect x="52.50" y="112.00" width="3.0" height="7.00"/><rect x="59.00" y="81.00" width="3.0" height="14.00"/><rect x="60.50" y="103.00" width="3.0" height="24.00"/><rect x="63.50" y="137.00" width="3.0" height="16.00"/><rect x="65.50" y="160.00" width="3.0" height="26.00"/><rect x="70.50" y="186.00" width="3.0" height="35.00"/><rect x="74.50" y="222.00" width="3.0" height="40.00"/><rect x="77.10" y="240.00" width="3.0" height="29.00"/><rect x="81.10" y="207.00" width="3.0" height="14.00"/><rect x="83.20" y="235.00" width="3.0" height="25.00"/><rect x="87.30" y="246.00" width="3.0" height="12.00"/><rect x="90.10" y="260.00" width="3.0" height="12.00"/><rect x="91.50" y="279.00" width="3.0" height="10.00"/><rect x="104.50" y="235.00" width="3.0" height="17.00"/><rect x="106.50" y="264.00" width="3.0" height="13.00"/><rect x="111.10" y="260.00" width="3.0" height="15.00"/><rect x="113.20" y="274.00" width="3.0" height="13.00"/><rect x="115.20" y="297.00" width="3.0" height="14.00"/><rect x="120.10" y="297.00" width="3.0" height="14.00"/><rect x="123.00" y="311.00" width="3.0" height="13.00"/><rect x="133.50" y="279.00" width="3.0" height="12.00"/><rect x="136.50" y="297.00" width="3.0" height="39.00"/><rect x="140.50" y="344.00" width="3.0" height="17.00"/><rect x="142.50" y="365.00" width="3.0" height="16.00"/><rect x="144.50" y="390.00" width="3.0" height="16.00"/><rect x="146.50" y="404.00" width="3.0" height="14.00"/><rect x="152.50" y="418.00" width="3.0" height="19.00"/><rect x="155.10" y="422.00" width="3.0" height="17.00"/><rect x="157.10" y="445.00" width="3.0" height="8.00"/><rect x="160.50" y="461.00" width="3.0" height="7.00"/><rect x="175.50" y="380.00" width="3.0" height="9.00"/><rect x="178.50" y="377.00" width="3.0" height="15.00"/><rect x="187.20" y="333.00" width="3.0" height="3.00"/><rect x="193.50" y="306.00" width="3.0" height="9.00"/><rect x="196.50" y="313.00" width="3.0" height="10.00"/><rect x="202.50" y="310.00" width="3.0" height="16.00"/><rect x="204.50" y="338.00" width="3.0" height="16.00"/><rect x="209.50" y="344.00" width="3.0" height="7.00"/><rect x="214.50" y="341.00" width="3.0" height="11.00"/><rect x="216.50" y="349.00" width="3.0" height="12.00"/><rect x="221.50" y="351.00" width="3.0" height="18.00"/><rect x="223.50" y="374.00" width="3.0" height="16.00"/><rect x="228.50" y="382.00" width="3.0" height="10.00"/><rect x="230.50" y="398.00" width="3.0" height="14.00"/><rect x="235.50" y="413.00" width="3.0" height="15.00"/><rect x="237.50" y="428.00" width="3.0" height="13.00"/><rect x="239.10" y="448.00" width="3.0" height="13.00"/><rect x="240.50" y="463.00" width="3.0" height="21.00"/><rect x="242.50" y="495.00" width="3.0" height="12.00"/><rect x="249.50" y="451.00" width="3.0" height="10.00"/><rect x="252.50" y="451.00" width="3.0" height="16.00"/><rect x="258.20" y="440.00" width="3.0" height="8.00"/><rect x="259.50" y="454.00" width="3.0" height="13.00"/><rect x="262.10" y="471.00" width="3.0" height="23.00"/><rect x="264.50" y="494.00" width="3.0" height="23.00"/><rect x="275.50" y="441.00" width="3.0" height="10.00"/><rect x="278.50" y="448.00" width="3.0" height="10.00"/><rect x="279.50" y="449.00" width="3.0" height="9.00"/><rect x="281.00" y="459.00" width="3.0" height="5.00"/><rect x="282.50" y="465.00" width="3.0" height="4.00"/><rect x="285.50" y="467.00" width="3.0" height="6.00"/><rect x="287.50" y="475.00" width="3.0" height="6.00"/><rect x="289.50" y="481.00" width="3.0" height="5.00"/><rect x="294.90" y="485.00" width="3.0" height="6.00"/><rect x="315.10" y="414.00" width="3.0" height="4.00"/><rect x="317.50" y="418.00" width="3.0" height="6.00"/><rect x="320.20" y="425.00" width="3.0" height="5.00"/><rect x="322.30" y="431.00" width="3.0" height="7.00"/><rect x="324.50" y="438.00" width="3.0" height="4.00"/><rect x="327.50" y="443.00" width="3.0" height="9.00"/><rect x="329.50" y="455.00" width="3.0" height="4.00"/><rect x="335.00" y="450.00" width="3.0" height="4.00"/><rect x="337.10" y="454.00" width="3.0" height="4.00"/><rect x="339.10" y="459.00" width="3.0" height="8.00"/><rect x="342.20" y="465.00" width="3.0" height="2.00"/><rect x="344.20" y="467.00" width="3.0" height="8.00"/><rect x="346.90" y="476.00" width="3.0" height="7.00"/><rect x="354.10" y="471.00" width="3.0" height="8.00"/><rect x="355.10" y="479.00" width="3.0" height="10.00"/><rect x="357.50" y="490.00" width="3.0" height="6.00"/><rect x="359.50" y="490.00" width="3.0" height="7.00"/><rect x="361.50" y="497.00" width="3.0" height="9.00"/><rect x="367.30" y="482.00" width="3.0" height="4.00"/><rect x="369.30" y="481.00" width="3.0" height="4.00"/><rect x="372.00" y="483.00" width="3.0" height="9.00"/><rect x="376.10" y="493.00" width="3.0" height="11.00"/><rect x="377.10" y="507.00" width="3.0" height="15.00"/><rect x="379.20" y="523.00" width="3.0" height="12.00"/><rect x="381.20" y="535.00" width="3.0" height="6.00"/><rect x="389.50" y="504.00" width="3.0" height="6.00"/><rect x="391.10" y="507.00" width="3.0" height="5.00"/><rect x="396.50" y="501.00" width="3.0" height="6.00"/><rect x="399.50" y="498.00" width="3.0" height="12.00"/><rect x="407.50" y="496.00" width="3.0" height="9.00"/><rect x="424.50" y="443.00" width="3.0" height="9.00"/><rect x="432.90" y="429.00" width="3.0" height="7.00"/><rect x="443.20" y="412.00" width="3.0" height="7.00"/><rect x="448.50" y="405.00" width="3.0" height="7.00"/><rect x="460.50" y="359.00" width="3.0" height="5.00"/><rect x="468.50" y="323.00" width="3.0" height="5.00"/><rect x="473.00" y="311.00" width="3.0" height="5.00"/><rect x="479.50" y="282.00" width="3.0" height="3.00"/><rect x="481.90" y="294.00" width="3.0" height="14.00"/><rect x="490.20" y="303.00" width="3.0" height="6.00"/><rect x="493.50" y="303.00" width="3.0" height="5.00"/><rect x="496.50" y="306.00" width="3.0" height="26.00"/><rect x="502.50" y="321.00" width="3.0" height="23.00"/><rect x="504.50" y="325.00" width="3.0" height="33.00"/><rect x="507.50" y="353.00" width="3.0" height="20.00"/><rect x="509.50" y="363.00" width="3.0" height="13.00"/><rect x="514.50" y="353.00" width="3.0" height="4.00"/><rect x="525.20" y="325.00" width="3.0" height="10.00"/><rect x="527.50" y="336.00" width="3.0" height="5.00"/><rect x="530.10" y="341.00" width="3.0" height="18.00"/><rect x="531.50" y="359.00" width="3.0" height="10.00"/><rect x="535.50" y="346.00" width="3.0" height="4.00"/><rect x="538.00" y="348.00" width="3.0" height="4.00"/><rect x="541.50" y="350.00" width="3.0" height="14.00"/><rect x="544.20" y="365.00" width="3.0" height="11.00"/><rect x="549.10" y="371.00" width="3.0" height="10.00"/><rect x="550.30" y="379.00" width="3.0" height="20.00"/><rect x="559.50" y="347.00" width="3.0" height="6.00"/><rect x="566.50" y="344.00" width="3.0" height="4.00"/><rect x="568.50" y="347.00" width="3.0" height="13.00"/><rect x="571.50" y="362.00" width="3.0" height="2.00"/><rect x="573.50" y="363.00" width="3.0" height="13.00"/><rect x="578.50" y="363.00" width="3.0" height="5.00"/><rect x="581.10" y="365.00" width="3.0" height="20.00"/><rect x="583.50" y="383.00" width="3.0" height="2.00"/><rect x="586.00" y="384.00" width="3.0" height="7.00"/><rect x="588.50" y="390.00" width="3.0" height="10.00"/><rect x="591.00" y="397.00" width="3.0" height="4.00"/><rect x="595.90" y="397.00" width="3.0" height="4.00"/><rect x="600.80" y="397.00" width="3.0" height="13.00"/><rect x="602.50" y="410.00" width="3.0" height="13.00"/><rect x="605.00" y="422.00" width="3.0" height="4.00"/><rect x="609.50" y="418.00" width="3.0" height="6.00"/><rect x="620.50" y="368.00" width="3.0" height="5.00"/><rect x="623.00" y="368.00" width="3.0" height="11.00"/><rect x="625.50" y="378.00" width="3.0" height="2.00"/><rect x="630.50" y="379.00" width="3.0" height="7.00"/><rect x="634.50" y="387.00" width="3.0" height="15.00"/><rect x="640.50" y="401.00" width="3.0" height="7.00"/><rect x="643.10" y="408.00" width="3.0" height="8.00"/><rect x="645.50" y="416.00" width="3.0" height="17.00"/><rect x="650.50" y="428.00" width="3.0" height="15.00"/><rect x="653.00" y="445.00" width="3.0" height="11.00"/><rect x="655.00" y="458.00" width="3.0" height="13.00"/><rect x="667.50" y="418.00" width="3.0" height="11.00"/><rect x="669.50" y="432.00" width="3.0" height="2.00"/><rect x="674.50" y="428.00" width="3.0" height="3.00"/><rect x="677.50" y="429.00" width="3.0" height="4.00"/><rect x="683.10" y="429.00" width="3.0" height="5.00"/><rect x="690.00" y="428.00" width="3.0" height="3.00"/><rect x="693.50" y="428.00" width="3.0" height="4.00"/><rect x="701.10" y="397.00" width="3.0" height="4.00"/><rect x="707.20" y="400.00" width="3.0" height="2.00"/><rect x="719.50" y="357.00" width="3.0" height="5.00"/><rect x="726.90" y="331.00" width="3.0" height="6.00"/><rect x="729.50" y="334.00" width="3.0" height="8.00"/><rect x="736.50" y="333.00" width="3.0" height="13.00"/><rect x="747.10" y="312.00" width="3.0" height="6.00"/><rect x="752.10" y="307.00" width="3.0" height="2.00"/><rect x="761.50" y="294.00" width="3.0" height="6.00"/><rect x="769.50" y="283.00" width="3.0" height="2.00"/><rect x="775.50" y="279.00" width="3.0" height="4.00"/><rect x="778.50" y="282.00" width="3.0" height="12.00"/><rect x="781.50" y="293.00" width="3.0" height="2.00"/><rect x="784.50" y="288.00" width="3.0" height="7.00"/><rect x="786.00" y="296.00" width="3.0" height="8.00"/><rect x="791.50" y="299.00" width="3.0" height="4.00"/><rect x="793.10" y="302.00" width="3.0" height="12.00"/><rect x="803.50" y="285.00" width="3.0" height="6.00"/><rect x="805.50" y="291.00" width="3.0" height="6.00"/><rect x="809.00" y="296.00" width="3.0" height="3.00"/><rect x="811.90" y="298.00" width="3.0" height="7.00"/><rect x="815.00" y="304.00" width="3.0" height="15.00"/><rect x="823.30" y="312.00" width="3.0" height="8.00"/><rect x="825.90" y="316.00" width="3.0" height="2.00"/><rect x="830.90" y="315.00" width="3.0" height="8.00"/><rect x="833.80" y="321.00" width="3.0" height="5.00"/><rect x="836.50" y="325.00" width="3.0" height="4.00"/><rect x="839.00" y="326.00" width="3.0" height="6.00"/><rect x="841.90" y="331.00" width="3.0" height="3.00"/><rect x="844.50" y="330.00" width="3.0" height="4.00"/><rect x="847.50" y="332.00" width="3.0" height="17.00"/><rect x="849.50" y="346.00" width="3.0" height="4.00"/><rect x="854.50" y="348.00" width="3.0" height="8.00"/><rect x="870.50" y="335.00" width="3.0" height="5.00"/><rect x="873.00" y="338.00" width="3.0" height="10.00"/><rect x="875.90" y="347.00" width="3.0" height="6.00"/><rect x="878.50" y="352.00" width="3.0" height="4.00"/><rect x="887.90" y="345.00" width="3.0" height="3.00"/><rect x="891.20" y="348.00" width="3.0" height="5.00"/><rect x="894.50" y="353.00" width="3.0" height="4.00"/><rect x="897.50" y="355.00" width="3.0" height="8.00"/><rect x="900.00" y="363.00" width="3.0" height="10.00"/><rect x="903.20" y="371.00" width="3.0" height="2.00"/><rect x="907.20" y="372.00" width="3.0" height="8.00"/><rect x="909.80" y="379.00" width="3.0" height="7.00"/><rect x="912.50" y="383.00" width="3.0" height="8.00"/><rect x="915.30" y="390.00" width="3.0" height="15.00"/><rect x="920.50" y="395.00" width="3.0" height="11.00"/><rect x="922.90" y="406.00" width="3.0" height="5.00"/><rect x="925.50" y="408.00" width="3.0" height="5.00"/><rect x="928.50" y="411.00" width="3.0" height="6.00"/><rect x="936.10" y="410.00" width="3.0" height="4.00"/><rect x="939.50" y="413.00" width="3.0" height="2.00"/><rect x="942.50" y="413.00" width="3.0" height="2.00"/><rect x="945.90" y="415.00" width="3.0" height="18.00"/><rect x="948.50" y="431.00" width="3.0" height="8.00"/><rect x="951.00" y="439.00" width="3.0" height="14.00"/><rect x="970.50" y="354.00" width="3.0" height="7.00"/><rect x="973.50" y="359.00" width="3.0" height="5.00"/><rect x="975.80" y="362.00" width="3.0" height="2.00"/><rect x="978.50" y="363.00" width="3.0" height="9.00"/><rect x="984.50" y="362.00" width="3.0" height="3.00"/><rect x="996.50" y="359.00" width="3.0" height="3.00"/><rect x="999.50" y="361.00" width="3.0" height="5.00"/><rect x="1001.00" y="363.00" width="3.0" height="6.00"/><rect x="1003.00" y="368.00" width="3.0" height="9.00"/><rect x="1015.50" y="319.00" width="3.0" height="5.00"/><rect x="1027.10" y="266.00" width="3.0" height="24.00"/><rect x="1028.50" y="277.00" width="3.0" height="13.00"/><rect x="1031.80" y="275.00" width="3.0" height="9.00"/><rect x="1041.50" y="246.00" width="3.0" height="5.00"/><rect x="1049.50" y="236.00" width="3.0" height="13.00"/><rect x="1051.50" y="246.00" width="3.0" height="5.00"/><rect x="1053.20" y="248.50" width="3.0" height="5.00"/><rect x="1055.10" y="250.00" width="3.0" height="4.00"/><rect x="1057.30" y="254.00" width="3.0" height="21.00"/><rect x="1059.50" y="275.00" width="3.0" height="25.00"/><rect x="1061.50" y="294.00" width="3.0" height="11.00"/><rect x="1066.50" y="294.00" width="3.0" height="6.00"/><rect x="1072.10" y="291.00" width="3.0" height="4.00"/><rect x="1074.50" y="294.00" width="3.0" height="5.00"/><rect x="1077.00" y="297.00" width="3.0" height="6.00"/><rect x="1079.50" y="303.00" width="3.0" height="5.50"/><rect x="72.50" y="220.90" width="3.0" height="1.20"/><rect x="95.50" y="281.00" width="3.0" height="2.00"/><rect x="138.50" y="336.00" width="3.0" height="8.00"/><rect x="150.50" y="414.00" width="3.0" height="4.00"/><rect x="158.80" y="453.00" width="3.0" height="8.00"/><rect x="200.50" y="305.00" width="3.0" height="5.00"/><rect x="302.80" y="468.00" width="3.0" height="5.00"/><rect x="431.20" y="428.40" width="3.0" height="1.20"/><rect x="483.70" y="308.00" width="3.0" height="10.00"/><rect x="498.50" y="331.90" width="3.0" height="1.20"/><rect x="632.50" y="385.90" width="3.0" height="1.20"/><rect x="636.50" y="401.90" width="3.0" height="1.20"/><rect x="688.15" y="426.90" width="3.0" height="1.20"/><rect x="753.80" y="308.40" width="3.0" height="1.20"/><rect x="858.90" y="348.40" width="3.0" height="1.20"/><rect x="865.30" y="341.90" width="3.0" height="1.20"/><rect x="868.80" y="333.00" width="3.0" height="2.00"/><rect x="886.20" y="343.00" width="3.0" height="2.00"/><rect x="889.55" y="347.40" width="3.0" height="1.20"/><rect x="892.85" y="352.40" width="3.0" height="1.20"/><rect x="944.20" y="414.40" width="3.0" height="1.20"/><rect x="982.50" y="361.40" width="3.0" height="1.20"/><rect x="986.35" y="364.90" width="3.0" height="1.20"/><rect x="992.80" y="360.40" width="3.0" height="1.20"/><rect x="1043.20" y="251.00" width="3.0" height="2.00"/></g><line x1="178.2" y1="305.5" x2="1214.6" y2="211.6" stroke="#000" stroke-width="3" stroke-linecap="butt"/><line x1="178" y1="524.4" x2="1214.7" y2="430.5" stroke="#000" stroke-width="3" stroke-linecap="butt"/><line x1="178" y1="414.9" x2="1213.7" y2="320.6" stroke="#3a3a3a" stroke-width="1.2" stroke-dasharray="6 5"/><line x1="59.5" y1="82.3" x2="1132.1" y2="248.3" stroke="#ff0000" stroke-width="3" stroke-linecap="butt"/><line x1="955.3" y1="453.6" x2="1113.2" y2="220" stroke="#00ff00" stroke-width="2.8" stroke-linecap="butt"/><path d="M0 249.5H1229" stroke="#ef5350" stroke-width="1" stroke-dasharray="2 2"/><path d="M1230.5 39V729M0 565.5H1309M0 702.5H1309" stroke="#50535e" stroke-width="1" fill="none"/><path d="M1231 50.5H1235 M1231 82.5H1235 M1231 117.5H1235 M1231 153.5H1235 M1231 191.5H1235 M1231 231.5H1235 M1231 265.5H1235 M1231 301.5H1235 M1231 338.5H1235 M1231 375.5H1235 M1231 407.5H1235 M1231 439.5H1235 M1231 473.5H1235 M1231 509.5H1235 M1231 541.5H1235 M1231 573.5H1235 M1231 607.5H1235 M1231 640.5H1235 M1231 674.5H1235 M85.5 703V706 M226.5 703V706 M322.5 703V706 M426.5 703V706 M521.5 703V706 M626.5 703V706 M726.5 703V706 M825.5 703V706 M923.5 703V706 M1030.5 703V706" stroke="#50535e" stroke-width="1" fill="none"/><rect x="1230" y="240" width="79" height="18" fill="#ef5350"/><path d="M1231 249.5H1235" stroke="#fff" stroke-width="1"/><path d="M0 38.5H1309" stroke="#e0e3eb" stroke-width="1"/><path d="M36.5 0V38 M75.5 0V38 M178.5 0V38 M286.5 0V38 M398.5 0V38 M461.5 0V38 M499.5 0V38 M537.5 0V38 M1153.5 0V38 M1192.5 0V38 M1230.5 0V38 M1268.5 0V38" stroke="#e0e3eb" stroke-width="1"/><path d="M0 729.5H1309" stroke="#e0e3eb" stroke-width="1"/></svg><svg width="1309" height="60" style="position:absolute;left:0;top:0"><g stroke="#131722" stroke-width="1.2" fill="none"><rect x="50.6" y="12.6" width="3.6" height="12.4"/><path d="M52.4 8.6V12.6M52.4 25V29.2"/><rect x="58.6" y="15.6" width="3.8" height="6"/><path d="M60.5 11.8V15.6M60.5 21.6V25.6"/></g><g stroke="#131722" stroke-width="1.2" fill="none"><circle cx="94.5" cy="19.25" r="9"/><path d="M90 19.25H99M94.5 14.75V23.75"/></g><g stroke="#131722" stroke-width="1.25" fill="none" stroke-linejoin="round"><path d="M187.3 18.3L192.6 13.3Q193.7 12.3 194.8 14L198.7 18.3Q199.6 19.3 200.8 17.9L205.4 13.3"/><path d="M200.1 25.4H208.8M204.4 21.1V29.7" stroke-width="1.4"/></g><g stroke="#131722" stroke-width="1.25" fill="none" stroke-linejoin="round"><path d="M296.4 15.3L301.6 10.3Q302.4 9.5 303.5 10.5L307.7 14.4Q308.5 15.2 309.7 14.2L314.6 9.4"/><path d="M296.4 20.3L301.6 15.3Q302.4 14.5 303.5 15.5L307.7 19.4Q308.5 20.2 309.7 19.2L314.6 14.4"/><path d="M299.5 25.1V28.7M302.4 23.2V28.7M305.4 25.1V28.7" stroke-width="1.2"/><path d="M308.1 25.5H316.9M312.5 21.3V29.7" stroke-width="1.4"/></g><circle cx="296.5" cy="28.3" r="0.7" fill="#131722"/><g stroke="#131722" stroke-width="1.3" fill="none" stroke-linecap="round" stroke-linejoin="round"><path d="M412.6 14.1L409.6 17.36L412.6 20.4M409.6 17.36H417.4A4.2 4.2 0 0 1 421.6 21.56V23.4"/></g><g stroke="#b2b5be" stroke-width="1.3" fill="none" stroke-linecap="round" stroke-linejoin="round"><path d="M446.4 14.1L449.6 17.36L446.4 20.4M449.6 17.36H441.6A4.2 4.2 0 0 0 437.4 21.56V23.4"/></g><g fill="#4a4e5a"><path d="M472 9H477.6L472 14.6Z M489.9 9H484.4L489.9 14.6Z M472 26.9H477.6L472 21.3Z M489.9 26.9H484.4L489.9 21.3Z"/></g><g stroke="#4a4e5a" stroke-width="1.9" stroke-linecap="butt"><path d="M473.5 10.5L478.1 15.1M488.4 10.5L483.9 15.1M473.5 25.4L478.1 20.8M488.4 25.4L483.9 20.8"/></g><g stroke="#131722" stroke-width="1.3" fill="none"><path d="M507.3 18.36Q518.4 6.2 529.6 18.36Q518.4 30.5 507.3 18.36Z"/><circle cx="518.6" cy="18.4" r="3.3"/></g><g stroke="#131722" stroke-width="1.25" fill="none" stroke-linejoin="round"><path d="M1170.67 12.17 L1171.24 9.67 L1174.42 9.67 L1174.99 12.17 L1176.01 12.59 L1178.18 11.23 L1180.43 13.48 L1179.07 15.65 L1179.49 16.67 L1181.99 17.24 L1181.99 20.42 L1179.49 20.99 L1179.07 22.01 L1180.43 24.18 L1178.18 26.43 L1176.01 25.07 L1174.99 25.49 L1174.42 27.99 L1171.24 27.99 L1170.67 25.49 L1169.65 25.07 L1167.48 26.43 L1165.23 24.18 L1166.59 22.01 L1166.17 20.99 L1163.67 20.42 L1163.67 17.24 L1166.17 16.67 L1166.59 15.65 L1165.23 13.48 L1167.48 11.23 L1169.65 12.59Z"/><circle cx="1172.83" cy="18.83" r="2.3"/></g><g stroke="#131722" stroke-width="1.15" fill="none"><circle cx="1219.4" cy="12.95" r="2.8"/><circle cx="1208.7" cy="18.83" r="2.8"/><circle cx="1219.4" cy="24.98" r="2.8"/><path d="M1211.2 17.4L1216.9 14.3M1211.2 20.3L1216.9 23.5"/></g><g stroke="#131722" stroke-width="1.1" fill="none" stroke-linejoin="round"><path d="M1244.3 13.4L1243.4 25.6L1260.3 25.4L1259.6 13.4L1256 13.6"/><path d="M1244.3 13.4L1253.5 13.9"/><path d="M1246.3 14.1L1247.3 26.4L1256.4 26.3L1260.3 25.4"/><path d="M1246.3 14.1L1253.8 14.6L1255.2 12.4Q1256.8 10.8 1258.4 12.4L1259.6 13.4"/></g><g fill="#4a4e5a"><rect x="1283.1" y="11.1" width="12.9" height="1.8"/><rect x="1286.4" y="10" width="6.3" height="1.4"/><rect x="1284.1" y="14.1" width="10.9" height="11.8"/></g></svg><svg width="30" height="26" style="position:absolute;left:1255px;top:704px"><g stroke="#131722" fill="none"><circle cx="14.43" cy="12.47" r="5" stroke-width="1.2"/><path d="M14.43 5.4V7.3M14.43 17.6V19.6M7.4 12.47H9.3M19.6 12.47H21.5M9.4 7.5L10.4 8.5M19.5 7.5L18.5 8.5M9.4 17.5L10.4 16.5M19.5 17.5L18.5 16.5" stroke-width="1.3"/></g></svg><svg width="70" height="30" style="position:absolute;left:0;top:40px"><g transform="translate(6,8) scale(0.03058)" stroke="#131722" stroke-width="44" fill="none" stroke-linecap="round" stroke-linejoin="round"><path d="M600 240C615 330 610 405 545 405C480 405 440 390 405 345L345 300"/><path d="M395 385C390 500 320 560 230 560C120 560 80 480 110 380L150 300"/><path d="M770 300C800 360 815 430 785 480C750 530 705 560 660 575"/><path d="M1030 400C1015 330 1005 250 960 240C910 235 885 300 915 355C945 400 1000 402 1030 402C1040 480 965 560 875 575"/><path d="M1190 240C1210 320 1210 405 1130 405L1030 405"/><circle cx="1150" cy="505" r="22" fill="#131722" stroke="none"/></g><g transform="translate(46,6) scale(0.03667)" stroke="#131722" stroke-width="40" fill="none" stroke-linecap="round" stroke-linejoin="round"><path d="M310 120L315 400C310 480 260 520 200 520C130 520 100 450 130 335"/><path d="M315 395H430"/><path d="M550 115C480 140 420 170 395 195C430 230 510 280 500 330C490 380 450 395 380 395"/></g></svg><div class="t" style="left:1239.3px;top:45.3px;font-size:12px;letter-spacing:-0.12px;color:#50535e">2200000.00</div><div class="t" style="left:1239.3px;top:77.3px;font-size:12px;letter-spacing:-0.12px;color:#50535e">2100000.00</div><div class="t" style="left:1239.3px;top:112.3px;font-size:12px;letter-spacing:-0.12px;color:#50535e">2000000.00</div><div class="t" style="left:1239.3px;top:148.3px;font-size:12px;letter-spacing:-0.12px;color:#50535e">1900000.00</div><div class="t" style="left:1239.3px;top:186.3px;font-size:12px;letter-spacing:-0.12px;color:#50535e">1800000.00</div><div class="t" style="left:1239.3px;top:226.3px;font-size:12px;letter-spacing:-0.12px;color:#50535e">1700000.00</div><div class="t" style="left:1239.3px;top:260.3px;font-size:12px;letter-spacing:-0.12px;color:#50535e">1620000.00</div><div class="t" style="left:1239.3px;top:296.3px;font-size:12px;letter-spacing:-0.12px;color:#50535e">1540000.00</div><div class="t" style="left:1239.3px;top:333.3px;font-size:12px;letter-spacing:-0.12px;color:#50535e">1460000.00</div><div class="t" style="left:1239.3px;top:370.3px;font-size:12px;letter-spacing:-0.12px;color:#50535e">1385000.00</div><div class="t" style="left:1239.3px;top:402.3px;font-size:12px;letter-spacing:-0.12px;color:#50535e">1325000.00</div><div class="t" style="left:1239.3px;top:434.3px;font-size:12px;letter-spacing:-0.12px;color:#50535e">1265000.00</div><div class="t" style="left:1239.3px;top:468.3px;font-size:12px;letter-spacing:-0.12px;color:#50535e">1205000.00</div><div class="t" style="left:1239.3px;top:504.3px;font-size:12px;letter-spacing:-0.12px;color:#50535e">1145000.00</div><div class="t" style="left:1239.3px;top:536.3px;font-size:12px;letter-spacing:-0.12px;color:#50535e">1095000.00</div><div class="t" style="left:1239.6px;top:243px;font-size:12px;letter-spacing:-0.31px;color:#fff;font-weight:bold">1656593.35</div><div class="t" style="left:1240px;top:568.3px;font-size:12px;letter-spacing:-0.12px;color:#50535e">100.0000</div><div class="t" style="left:1240px;top:602.3px;font-size:12px;letter-spacing:-0.12px;color:#50535e">75.0000</div><div class="t" style="left:1240px;top:635.3px;font-size:12px;letter-spacing:-0.12px;color:#50535e">50.0000</div><div class="t" style="left:1240px;top:669.3px;font-size:12px;letter-spacing:-0.12px;color:#50535e">25.0000</div><div class="t" style="left:45px;width:81px;text-align:center;top:712px;font-size:12px;color:#50535e;font-weight:normal">Sep</div><div class="t" style="left:186px;width:81px;text-align:center;top:712px;font-size:12px;color:#434651;font-weight:bold">2021</div><div class="t" style="left:282px;width:81px;text-align:center;top:712px;font-size:12px;color:#50535e;font-weight:normal">Apr</div><div class="t" style="left:386px;width:81px;text-align:center;top:712px;font-size:12px;color:#50535e;font-weight:normal">Jul</div><div class="t" style="left:481px;width:81px;text-align:center;top:712px;font-size:12px;color:#50535e;font-weight:normal">Oct</div><div class="t" style="left:586px;width:81px;text-align:center;top:712px;font-size:12px;color:#434651;font-weight:bold">2022</div><div class="t" style="left:686px;width:81px;text-align:center;top:712px;font-size:12px;color:#50535e;font-weight:normal">Apr</div><div class="t" style="left:785px;width:81px;text-align:center;top:712px;font-size:12px;color:#50535e;font-weight:normal">Jul</div><div class="t" style="left:883px;width:81px;text-align:center;top:712px;font-size:12px;color:#50535e;font-weight:normal">Oct</div><div class="t" style="left:990px;width:81px;text-align:center;top:712px;font-size:12px;color:#434651;font-weight:bold">2023</div><div class="t" style="left:80px;top:50px;font-size:14px;color:#131722">D</div><div class="t" style="left:70.5px;top:54px;width:2.5px;height:2.5px;border-radius:2px;background:#b2b5be"></div><div class="t" style="left:100px;top:50px;font-size:13px;color:#50535e">O<span style="color:#ef5350">1660062,28</span></div><div class="t" style="left:184.6px;top:50px;font-size:13px;color:#50535e">H<span style="color:#ef5350">1663179,80</span></div><div class="t" style="left:270.9px;top:50px;font-size:13px;color:#50535e">L<span style="color:#ef5350">1653510,97</span></div><div class="t" style="left:354.2px;top:50px;font-size:13px;color:#50535e">C<span style="color:#ef5350">1656593,35</span></div><div class="t" style="left:438px;top:50px;font-size:13px;color:#ef5350">−2823,10 (−0,17%)</div><div class="t" style="left:1146.6px;top:50.3px;font-size:12.3px;color:#9ea1a9">Market Closed</div><div class="t" style="left:1135.6px;top:52.7px;width:6.4px;height:6.4px;border-radius:50%;background:#9598a1"></div><div class="t" style="left:7px;top:572px;width:18px;height:18px;border:1px solid #e0e3eb;border-radius:3px;background:#fff"></div><svg class="t" style="left:11.5px;top:576.5px" width="11" height="11"><path d="M2.5 4L5.5 7L8.5 4" stroke="#131722" stroke-width="1.4" fill="none"/></svg><div class="t" style="left:35px;top:576px;font-size:12px;color:#50535e">RSI 14</div><div class="t" style="left:82px;top:575px;font-size:13px;color:#9c27b0">65,5366</div><div class="t" style="left:7px;top:655.5px;width:31px;height:31px;border-radius:50%;background:#fff;border:1px solid #e0e3eb"></div><svg class="t" style="left:12px;top:664px" width="23" height="15" viewBox="0 0 23 15"><path d="M2.4 13.75Q1 13.75 1 12L1 8.5Q1 5.8 3.6 5.5Q4.8 0.9 9.5 0.9Q12.9 0.9 14.2 3.4Q16.6 3.1 18 4.5Q19.4 5.9 19.7 7.9Q22.2 8.5 22.2 11Q22 13.75 20.3 13.75Z" fill="#2196f3"/><path d="M1.2 12.5L8.7 5.8L13.9 11L19.8 5.2" stroke="#fff" stroke-width="1.4" fill="none" stroke-linejoin="round"/><circle cx="8.7" cy="5.8" r="1.5" fill="#fff"/><circle cx="13.9" cy="11" r="1.5" fill="#fff"/></svg><div class="t" style="left:13px;top:12px;font-size:13px;color:#131722">D</div><div class="t" style="left:111px;top:11px;font-size:14px;color:#2a2e39">Compare</div><div class="t" style="left:214px;top:11px;font-size:14px;letter-spacing:0.25px;color:#2a2e39">Indicators</div><div class="t" style="left:323px;top:11px;font-size:14px;letter-spacing:0.3px;color:#2a2e39">Templates</div></div></body></html>
